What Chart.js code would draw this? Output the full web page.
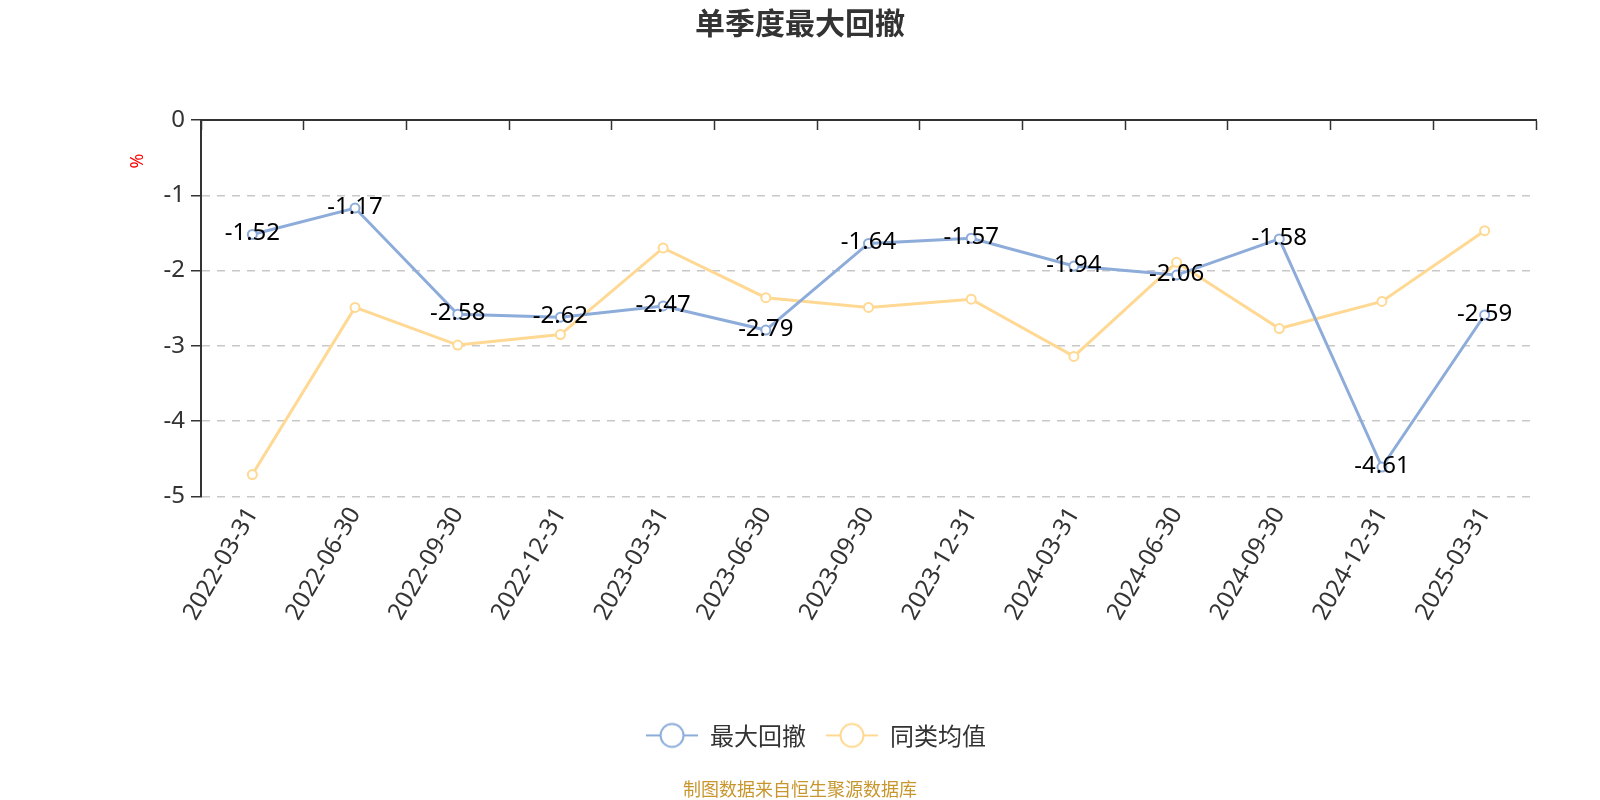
<html lang="zh">
<head>
    <meta charset="UTF-8">
    <title>单季度最大回撤</title>
    <style>
        html, body { margin: 0; padding: 0; background: #fff; }
        .chartBox { width: 1600px; height: 800px; }
    </style>
</head>
<body>
    <div class="chartBox">
        <canvas id="myChart"></canvas>
    </div>

    <script src="https://cdn.jsdelivr.net/npm/chart.js@4.4.0/dist/chart.umd.min.js"></script>
    <script>
        // data
        const quarters = ['2022-03-31','2022-06-30','2022-09-30','2022-12-31','2023-03-31','2023-06-30','2023-09-30',
                          '2023-12-31','2024-03-31','2024-06-30','2024-09-30','2024-12-31','2025-03-31'];
        const maxDrawdown = [-1.52, -1.17, -2.58, -2.62, -2.47, -2.79, -1.64, -1.57, -1.94, -2.06, -1.58, -4.61, -2.59];
        const peerAverage = [-4.71, -2.49, -2.99, -2.85, -1.70, -2.36, -2.49, -2.38, -3.14, -1.89, -2.77, -2.41, -1.47];
        const yTicks = [0, -1, -2, -3, -4, -5];

        const blue = '#8dacda';
        const yellow = '#ffd993';
        const fontFamily = "'Noto Sans', 'Noto Sans CJK SC', sans-serif";
        const cjkFont = "'Noto Sans CJK SC', sans-serif";

        // legend icon: line with hollow circle
        function legendIcon(color) {
            const c = document.createElement('canvas');
            c.width = 52; c.height = 28;
            const g = c.getContext('2d');
            g.strokeStyle = color;
            g.lineWidth = 2;
            g.beginPath(); g.moveTo(0, 14); g.lineTo(52, 14); g.stroke();
            g.beginPath(); g.arc(26, 14, 11.5, 0, Math.PI * 2);
            g.fillStyle = '#fff'; g.fill(); g.stroke();
            return c;
        }

        // value labels on the first series + "%" axis name
        const extras = {
            id: 'extras',
            afterLayout(chart) {
                // legend sits a little right of centre in the original
                chart.legend.left += 16;
                chart.legend.right += 16;
            },
            afterDatasetsDraw(chart) {
                const ctx = chart.ctx;
                const meta = chart.getDatasetMeta(0);
                ctx.save();
                ctx.font = '24px ' + fontFamily;
                ctx.fillStyle = '#000';
                ctx.textAlign = 'center';
                ctx.textBaseline = 'middle';
                meta.data.forEach((pt, i) => {
                    ctx.fillText(maxDrawdown[i].toFixed(2), pt.x, pt.y - 1);
                });
                const area = chart.chartArea;
                ctx.translate(area.left - 63, area.top + 41);
                ctx.rotate(-Math.PI / 2);
                ctx.fillStyle = '#ff0000';
                ctx.font = '18px ' + fontFamily;
                ctx.fillText('%', 0, 0);
                ctx.restore();
            }
        };

        const ctx = document.getElementById('myChart').getContext('2d');
        const chart = new Chart(ctx, {
            type: 'line',
            data: {
                labels: quarters,
                datasets: [
                    {label: '最大回撤', data: maxDrawdown, borderColor: blue, backgroundColor: '#fff',
                     borderWidth: 3, pointRadius: 4.5, pointBorderWidth: 2, pointBackgroundColor: '#fff',
                     pointBorderColor: blue, tension: 0},
                    {label: '同类均值', data: peerAverage, borderColor: yellow, backgroundColor: '#fff',
                     borderWidth: 3, pointRadius: 4.5, pointBorderWidth: 2, pointBackgroundColor: '#fff',
                     pointBorderColor: yellow, tension: 0}
                ]
            },
            options: {
                responsive: true,
                maintainAspectRatio: false,
                animation: false,
                layout: {padding: 0},
                scales: {
                    x: {
                        position: 'bottom',
                        offset: true,
                        grid: {display: false, drawTicks: false},
                        border: {display: false},
                        ticks: {color: '#333', font: {size: 24, family: fontFamily}, maxRotation: 60, minRotation: 60, padding: 6},
                        afterFit: s => { s.height = 207; }
                    },
                    xTop: {
                        type: 'category',
                        labels: quarters,
                        position: {y: 0},
                        offset: true,
                        grid: {offset: true, drawOnChartArea: false, drawTicks: true, tickLength: 9, color: '#333', tickColor: '#333', tickWidth: 1.5},
                        border: {display: true, color: '#333', width: 2},
                        ticks: {display: false}
                    },
                    y: {
                        min: -5,
                        max: 0,
                        afterBuildTicks: s => { s.ticks = yTicks.map(v => ({value: v})); },
                        ticks: {color: '#333', font: {size: 24, family: fontFamily}, padding: 6},
                        grid: {
                            color: c => c.tick && c.tick.value === 0 ? 'rgba(0,0,0,0)' : '#c8c8c8',
                            tickColor: '#333',
                            tickLength: 10,
                            lineWidth: 1.5
                        },
                        border: {display: true, color: '#333', width: 2, dash: [8, 7]},
                        afterFit: s => { s.width = 201; }
                    },
                    // empty right-hand spacer so the title stays centred on the page
                    ySpace: {
                        position: 'right',
                        min: -5,
                        max: 0,
                        grid: {display: false, drawTicks: false},
                        border: {display: false},
                        ticks: {display: false},
                        afterFit: s => { s.width = 64; }
                    }
                },
                plugins: {
                    title: {
                        display: true,
                        text: '单季度最大回撤',
                        color: '#333',
                        font: {size: 30, weight: 'bold', family: cjkFont},
                        padding: {top: 5, bottom: 79}
                    },
                    subtitle: {
                        display: true,
                        position: 'bottom',
                        text: '制图数据来自恒生聚源数据库',
                        color: '#c8962e',
                        font: {size: 18, family: cjkFont},
                        padding: {top: 21, bottom: 0}
                    },
                    legend: {
                        position: 'bottom',
                        labels: {
                            color: '#333',
                            font: {size: 24, family: cjkFont},
                            usePointStyle: true,
                            pointStyleWidth: 52,
                            padding: 20,
                            generateLabels(chart) {
                                const items = Chart.defaults.plugins.legend.labels.generateLabels(chart);
                                items.forEach(it => {
                                    it.pointStyle = legendIcon(it.datasetIndex === 0 ? blue : yellow);
                                });
                                return items;
                            }
                        }
                    },
                    tooltip: {enabled: false}
                }
            },
            plugins: [extras]
        });
    </script>
</body>
</html>
